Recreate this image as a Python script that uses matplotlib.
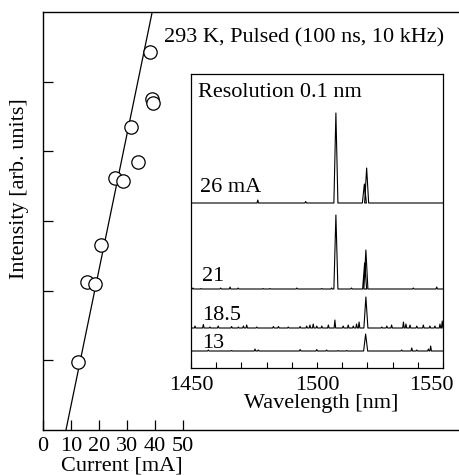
import numpy as np
import matplotlib.pyplot as plt
from matplotlib.transforms import ScaledTranslation

plt.rcParams['font.family'] = ['Liberation Serif', 'DejaVu Serif']
plt.rcParams['font.size'] = 16

# main panel: intensity vs current
current = [38.2, 39.0, 39.3, 31.4, 34.0, 25.6, 28.5, 20.7, 15.6, 18.5, 12.6]
intensity = [5.42, 4.75, 4.70, 4.35, 3.84, 3.62, 3.57, 2.66, 2.13, 2.10, 0.98]
fit_current = [8.2, 39.0]
fit_intensity = [0.0, 6.0]

# inset: spectra (spike centre [nm], height [arb.]) per drive current
labels = ['26 mA', '21', '18.5', '13']
offsets = [165, 79, 40, 17]
spec_26 = ([1476.5, 1495.5, 1507.5, 1518.8, 1519.7],
           [3, 1.5, 90, 19, 35])
spec_21 = ([1450.8, 1454.0, 1461.8, 1465.5, 1468.7, 1478.6, 1481.3, 1492.0,
            1501.9, 1505.8, 1507.5, 1513.7, 1518.9, 1519.4, 1538.2, 1547.5],
           [1, 0.5, 1, 2, 1, 0.5, 0.5, 1, 0.5, 1, 74, 1, 26, 39, 1, 2])
spec_185 = ([1451.6, 1454.9, 1457.5, 1460.8, 1466.1, 1468.8, 1470.8, 1472.1,
             1476.1, 1482.7, 1484.7, 1488.6, 1493.3, 1495.9, 1497.2, 1498.5,
             1499.9, 1501.9, 1504.5, 1507.1, 1510.4, 1512.4, 1514.4, 1515.7,
             1516.7, 1519.4, 1525.7, 1527.7, 1529.6, 1534.3, 1535.3, 1536.9,
             1539.6, 1542.2, 1544.8, 1546.8, 1548.8, 1549.7],
            [2, 3.5, 1, 2, 1.5, 1, 2, 3, 1, 1.5, 1.5, 1, 1.5, 2, 3, 4,
             2, 2, 3, 8, 2, 3, 2, 4, 6, 31, 1, 2, 3, 6, 4, 3,
             2, 3, 2, 2, 4, 7])
spec_13 = ([1456.9, 1466.1, 1475.4, 1476.7, 1493.3, 1499.9, 1503.8, 1508.4,
            1511.8, 1519.3, 1533.6, 1537.6, 1539.6, 1544.2, 1545.1],
           [1, 0.5, 2, 1, 1.5, 1.5, 1, 0.5, 0.5, 17, 1, 3, 1, 2, 5])
spectra = [spec_26, spec_21, spec_185, spec_13]


def spike_trace(centres, heights, lo=1450, hi=1550):
    xs, ys = [lo], [0]
    for c, h in sorted(zip(centres, heights)):
        hw = 0.8 if h > 12 else 0.3
        xs += [c - hw, c, c + hw]
        ys += [0, h, 0]
    xs.append(hi)
    ys.append(0)
    return np.array(xs), np.array(ys)


fig = plt.figure(figsize=(4.59, 4.75), dpi=100)
W, H = 459, 475

ax = fig.add_axes([43 / W, 45 / H, 416 / W, 418 / H])
ax.plot(fit_current, fit_intensity, color='black', linewidth=0.9)
ax.plot(current, intensity, linestyle='None', marker='o', markersize=9.6,
        markerfacecolor='white', markeredgecolor='black', markeredgewidth=0.9)
ax.set_xlim(0, 416 / 2.8)
ax.set_ylim(0, 6)
ax.set_xticks([0, 10, 20, 30, 40, 50])
ax.set_yticks([1, 2, 3, 4, 5])
ax.set_yticklabels([])
ax.tick_params(direction='in', length=7, width=0.9, pad=5)
ax.spines['right'].set_visible(False)
for s in ['left', 'top', 'bottom']:
    ax.spines[s].set_linewidth(1.0)

fig.text(122 / W, (H - 471) / H, 'Current [mA]', ha='center', va='baseline')
fig.text(20 / W, (H - 189) / H, 'Intensity [arb. units]', rotation=90,
         ha='center', va='center')
fig.text(444 / W, (H - 42) / H, '293 K, Pulsed (100 ns, 10 kHz)',
         ha='right', va='baseline')

# inset
ins = fig.add_axes([191 / W, 107 / H, 252 / W, 294 / H])
ins.set_facecolor('white')
for spec, off in zip(spectra, offsets):
    x, y = spike_trace(*spec)
    ins.plot(x, y + off, color='black', linewidth=0.8)
ins.set_xlim(1450, 1550)
ins.set_ylim(0, 294)
ins.set_yticks([])
ins.set_xticks(np.arange(1450, 1551, 10))
ins.set_xticklabels(['1450', '', '', '', '', '1500', '', '', '', '', '1550'])
ins.tick_params(axis='x', direction='in', length=4, width=0.8, pad=6)
for s in ins.spines.values():
    s.set_linewidth(0.9)
last = ins.get_xticklabels()[-1]
last.set_transform(last.get_transform()
                   + ScaledTranslation(-12 / 100, 0, fig.dpi_scale_trans))

ins.text(0.028, 0.922, 'Resolution 0.1 nm', transform=ins.transAxes,
         va='baseline')
label_y = [0.599, 0.296, 0.163, 0.068]
label_x = [0.036, 0.044, 0.044, 0.044]
for lab, lx, ly in zip(labels, label_x, label_y):
    ins.text(lx, ly, lab, transform=ins.transAxes, va='baseline')
fig.text(321 / W, (H - 408) / H, 'Wavelength [nm]', ha='center',
         va='baseline')

fig.savefig('out.png', dpi=100)
